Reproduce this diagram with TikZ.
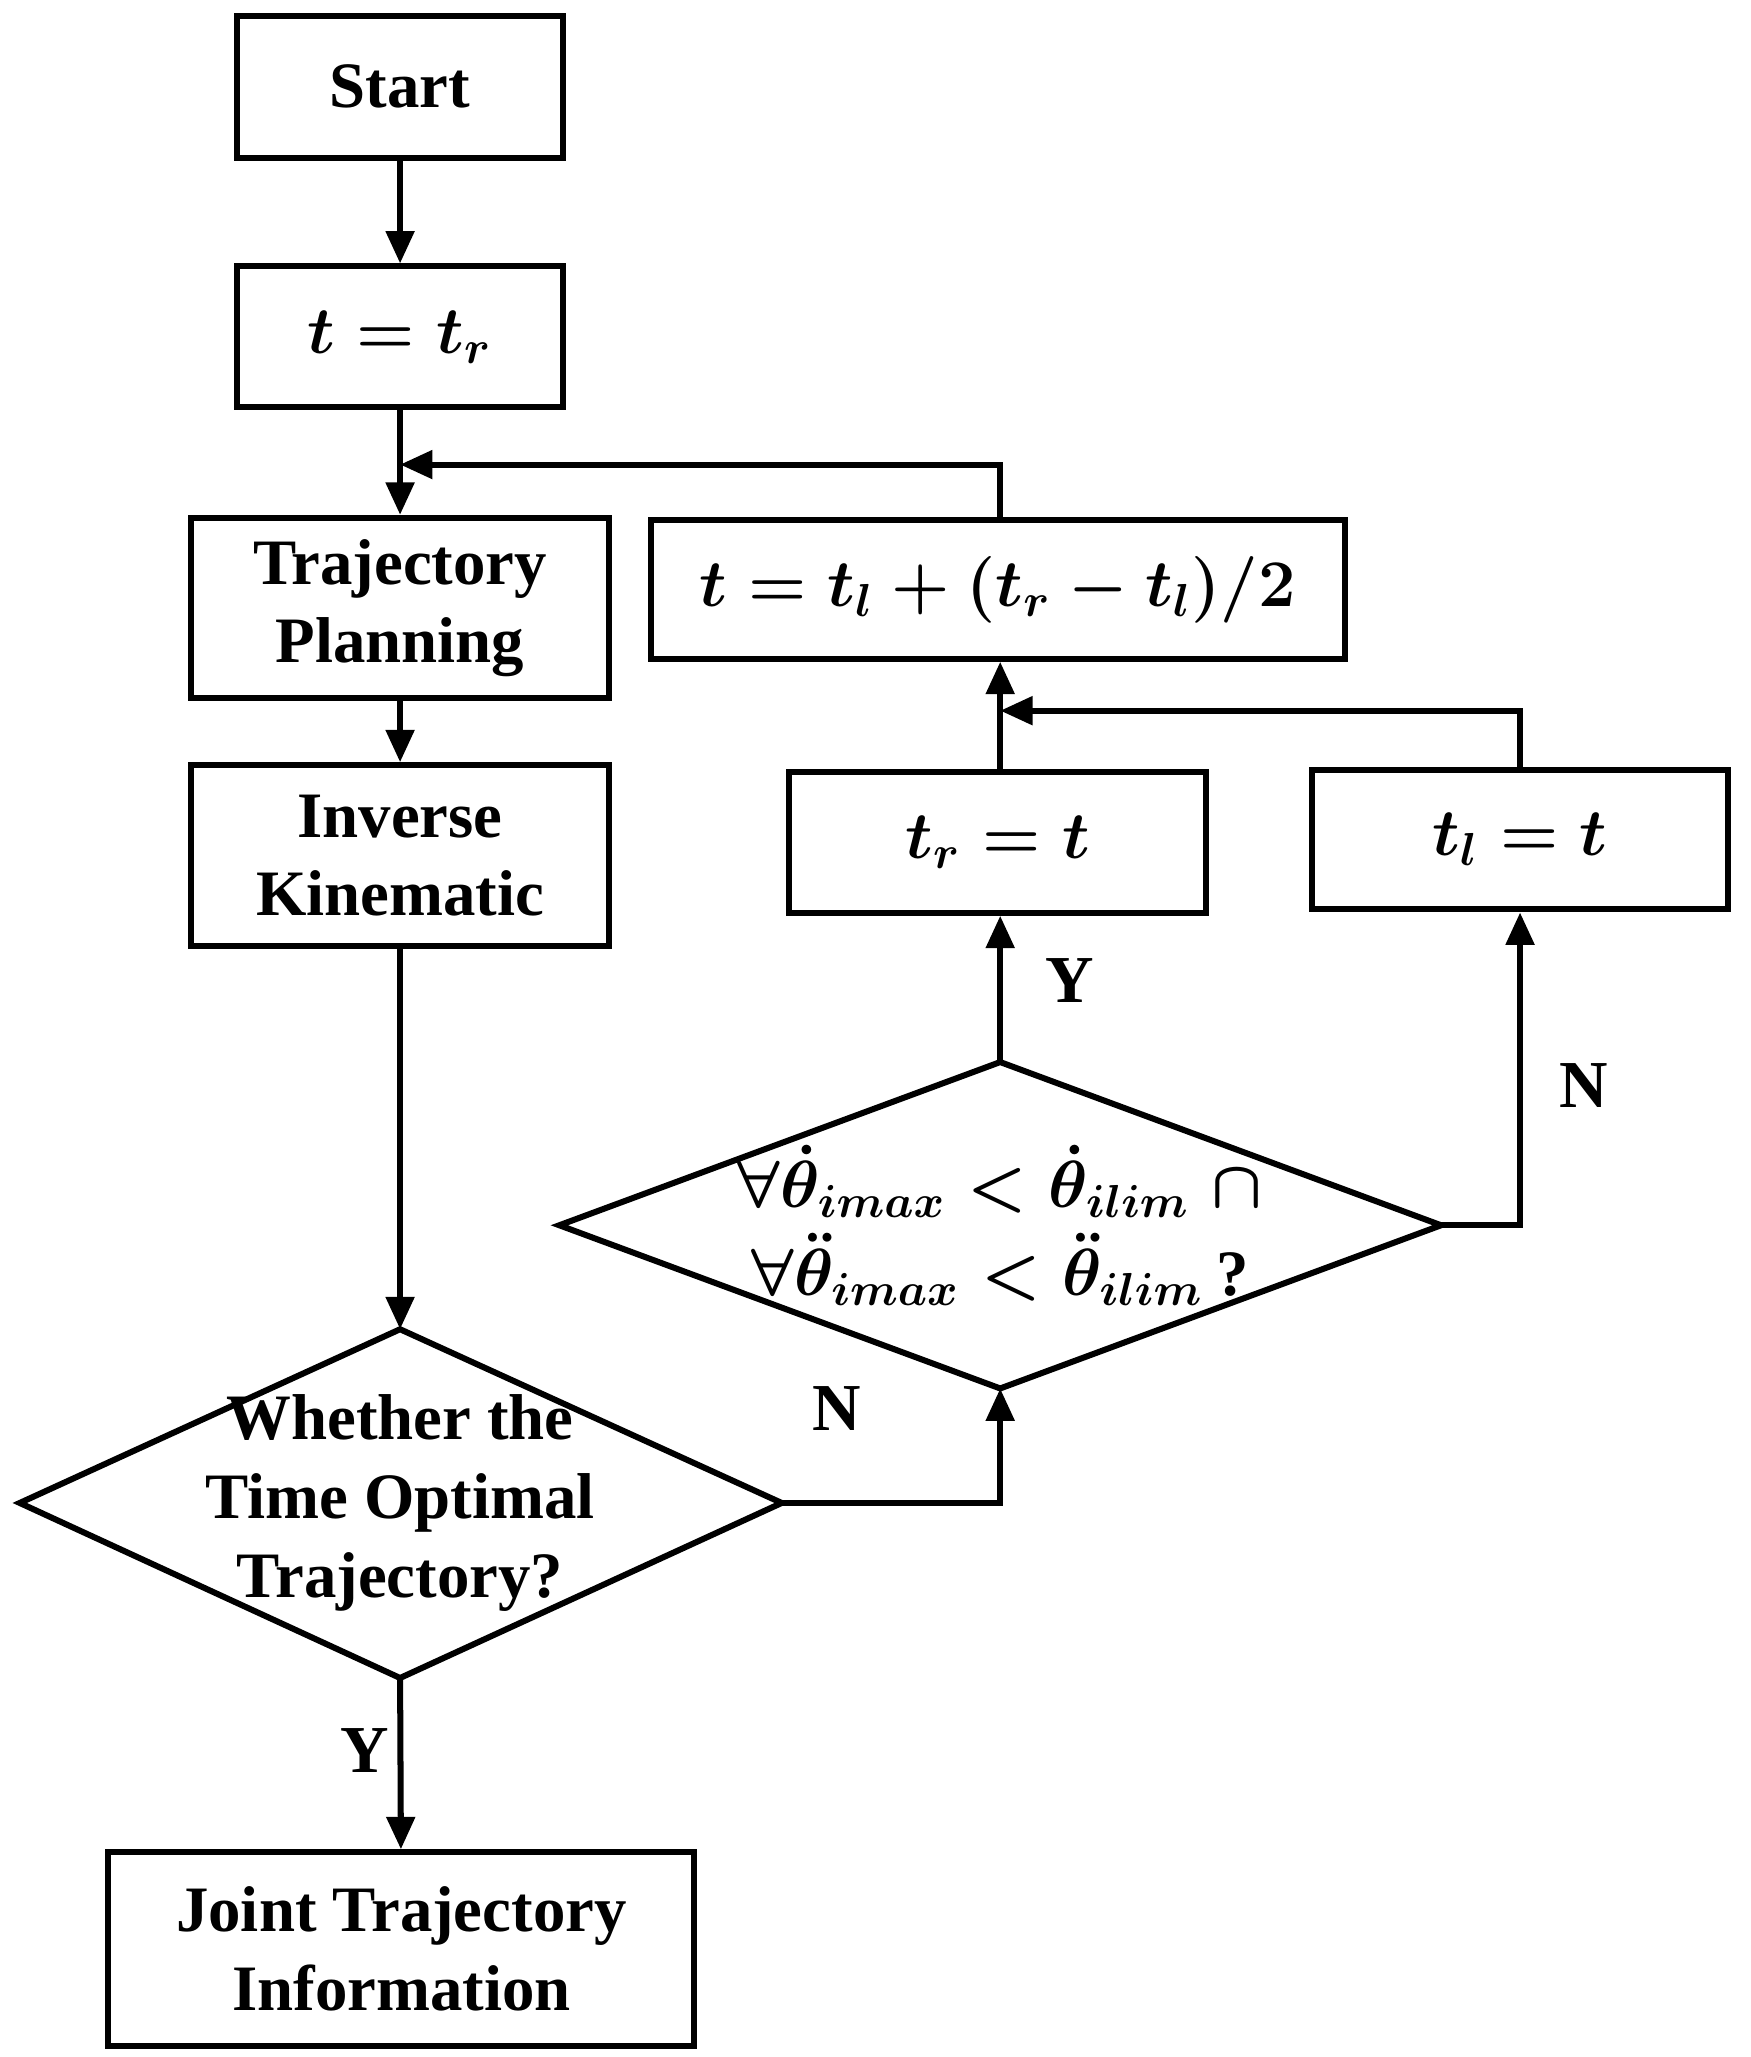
\documentclass[tikz,border=0pt]{standalone}
\usepackage{amsmath,bm}
\usepackage{fontspec}
\setmainfont{Liberation Serif}
\usetikzlibrary{arrows.meta,shapes.geometric}
\begin{document}
\begin{tikzpicture}[x=0.01cm,y=-0.01cm,
  every node/.style={font=\fontsize{14}{17}\selectfont\bfseries\boldmath, align=center, inner sep=0pt},
  box/.style={draw, line width=1.3pt},
  line/.style={line width=1.3pt},
  arr/.style={line, -{Triangle[length=7pt,width=6pt]}},
  lab/.style={font=\fontsize{14.5}{19}\selectfont\bfseries}]
\useasboundingbox (0,0) rectangle (1330,1563);
\node[box, minimum width=2.48cm, minimum height=1.08cm] (s) at (304,66) {Start};
\node[box, minimum width=2.47cm, minimum height=1.07cm] (t) at (304,256) {$t = t_r$};
\node[box, minimum width=3.17cm, minimum height=1.37cm] (tp) at (304,462) {Trajectory\\Planning};
\node[box, minimum width=3.17cm, minimum height=1.37cm] (ik) at (304,650) {Inverse\\Kinematic};
\coordinate (d1) at (304,1142);
\draw[line] (15,1142) coordinate (d1l) -- (304,1010) coordinate (d1t) -- (594,1142) coordinate (d1r) -- (304,1275) coordinate (d1b) -- cycle;
\node at (d1) {Whether the\\Time Optimal\\Trajectory?};
\node[box, minimum width=4.45cm, minimum height=1.47cm] (j) at (305,1481) {Joint Trajectory\\Information};
\node[box, minimum width=5.27cm, minimum height=1.05cm] (u) at (758,448) {$t = t_l + (t_r - t_l)/2$};
\node[box, minimum width=3.17cm, minimum height=1.07cm] (r) at (758,640) {$t_r = t$};
\node[box, minimum width=3.16cm, minimum height=1.06cm] (l) at (1155,638) {$t_l = t$};
\draw[line] (425,931) coordinate (d2l) -- (760,807) coordinate (d2t) -- (1095,931) coordinate (d2r) -- (760,1055) coordinate (d2b) -- cycle;
\node at (760,931) {$\forall\dot{\theta}_{imax} < \dot{\theta}_{ilim} \;\cap$\\[2pt]$\forall\ddot{\theta}_{imax} < \ddot{\theta}_{ilim}\,$?};
\draw[arr] (s) -- (t);
\draw[arr] (t) -- (tp);
\draw[arr] (tp) -- (ik);
\draw[arr] (ik) -- (d1t);
\draw[arr] (d1b) -- (j);
\draw[arr] (d1r) -- (760,1142) -- (d2b);
\draw[arr] (d2t) -- (r.south -| d2t);
\draw[arr] (d2r) -- (1155,931) -- (l.south);
\draw[arr] (r.north -| d2t) -- (u.south -| d2t);
\draw[arr] (l.north) -- (1155,540) -- (760,540);
\draw[arr] (u.north -| d2t) -- (760,353) -- (304,353);
\node[lab] at (277,1330) {Y};
\node[lab] at (636,1070) {N};
\node[lab] at (813,745) {Y};
\node[lab] at (1203,825) {N};
\end{tikzpicture}
\end{document}
